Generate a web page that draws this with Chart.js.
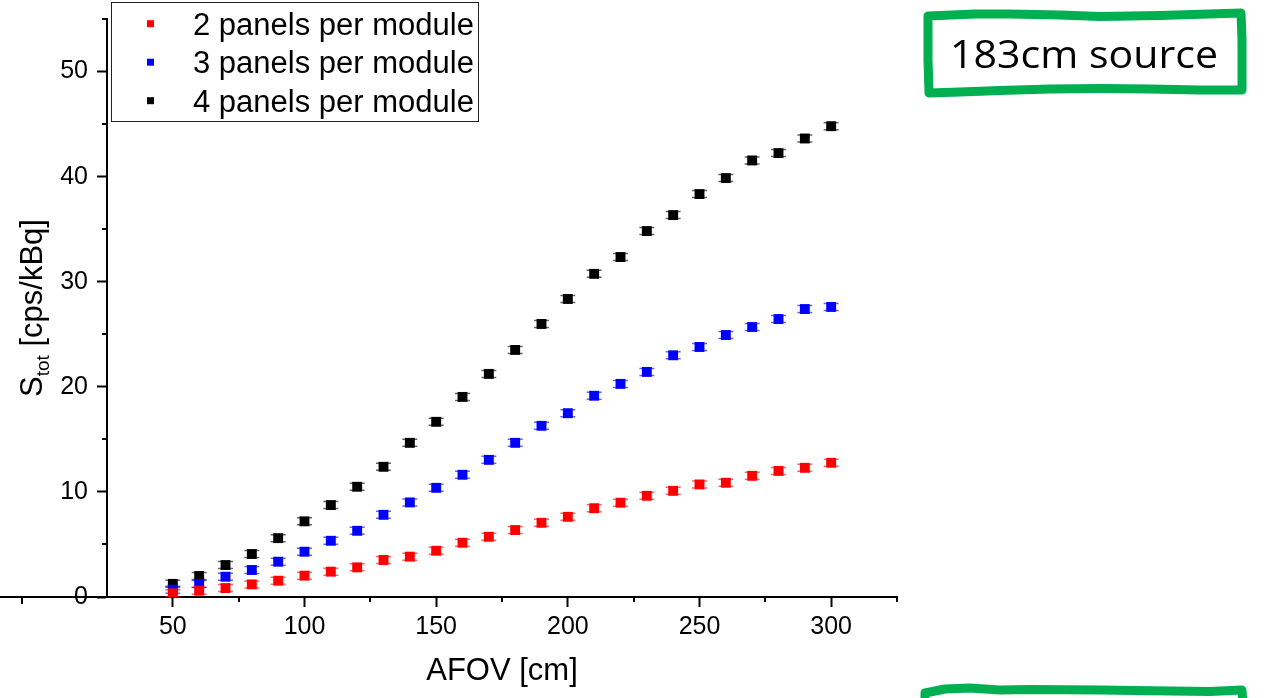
<!DOCTYPE html>
<html>
<head>
<meta charset="utf-8">
<script src="https://cdn.jsdelivr.net/npm/chart.js@4/dist/chart.umd.min.js"></script>
<style>
  html, body { margin: 0; padding: 0; background: #fff; }
  #wrap { width: 1268px; height: 698px; }
</style>
</head>
<body>
<div id="wrap"><canvas id="afovChart" width="1268" height="698"></canvas></div>
<script>
'use strict';

// AFOV in cm
const afov = [50, 60, 70, 80, 90, 100, 110, 120, 130, 140, 150, 160, 170, 180, 190, 200,
  210, 220, 230, 240, 250, 260, 270, 280, 290, 300];

// S_tot in cps/kBq
const twoPanels = [0.35, 0.6, 0.85, 1.2, 1.55, 2.03, 2.41, 2.82, 3.52, 3.84, 4.4, 5.16, 5.73,
  6.37, 7.06, 7.63, 8.45, 8.97, 9.63, 10.1, 10.71, 10.87, 11.53, 12.0, 12.29, 12.77];
const threePanels = [0.7, 1.24, 1.93, 2.57, 3.36, 4.31, 5.35, 6.3, 7.82, 9.0, 10.39, 11.63,
  13.05, 14.67, 16.29, 17.49, 19.15, 20.28, 21.42, 23.0, 23.79, 24.93, 25.69, 26.45, 27.4, 27.6];
const fourPanels = [1.25, 2.0, 3.04, 4.09, 5.6, 7.2, 8.75, 10.49, 12.39, 14.67, 16.67, 19.04,
  21.23, 23.51, 25.98, 28.36, 30.75, 32.35, 34.82, 36.34, 38.34, 39.86, 41.54, 42.24, 43.63, 44.8];

const seriesNames = ['2 panels per module', '3 panels per module', '4 panels per module'];
const seriesColors = ['#ff0000', '#0000ff', '#000000'];

const xTicks = [50, 100, 150, 200, 250, 300];
const xMinorTicks = [75, 125, 175, 225, 275, 325];
const yTicks = [0, 10, 20, 30, 40, 50];
const yMinorTicks = [5, 15, 25, 35, 45, 55];

const FONT = 'Liberation Sans, Arial, sans-serif';
const GREEN = '#00b050';

function toPoints(values) {
  return values.map((v, i) => ({ x: afov[i], y: v }));
}

// little error bar caps above and below every marker
const errorCaps = {
  id: 'errorCaps',
  beforeDatasetsDraw(chart) {
    const ctx = chart.ctx;
    ctx.save();
    chart.data.datasets.forEach((ds, i) => {
      const meta = chart.getDatasetMeta(i);
      ctx.strokeStyle = ds.backgroundColor;
      ctx.globalAlpha = 0.6;
      ctx.lineWidth = 1.5;
      meta.data.forEach(pt => {
        ctx.beginPath();
        ctx.moveTo(pt.x - 7.5, pt.y - 3.5);
        ctx.lineTo(pt.x + 7.5, pt.y - 3.5);
        ctx.moveTo(pt.x - 7.5, pt.y + 3.5);
        ctx.lineTo(pt.x + 7.5, pt.y + 3.5);
        ctx.stroke();
      });
    });
    ctx.restore();
  }
};

function wobblyBox(ctx, pts) {
  ctx.beginPath();
  ctx.moveTo(pts[0][0], pts[0][1]);
  for (let i = 1; i < pts.length; i++) {
    ctx.lineTo(pts[i][0], pts[i][1]);
  }
}

const decor = {
  id: 'decor',
  afterDraw(chart) {
    const ctx = chart.ctx;
    const xs = chart.scales.x;
    const ys = chart.scales.y;
    const area = chart.chartArea;
    ctx.save();

    // minor ticks
    ctx.strokeStyle = '#000';
    ctx.lineWidth = 2;
    ctx.beginPath();
    xMinorTicks.forEach(v => {
      const px = Math.round(xs.getPixelForValue(v));
      ctx.moveTo(px, area.bottom);
      ctx.lineTo(px, area.bottom + 5);
    });
    yMinorTicks.forEach(v => {
      const py = Math.round(ys.getPixelForValue(v));
      ctx.moveTo(area.left - 5, py);
      ctx.lineTo(area.left, py);
    });
    ctx.stroke();

    // stray bit of the neighbouring axis on the left edge
    ctx.beginPath();
    ctx.moveTo(0, area.bottom);
    ctx.lineTo(area.left, area.bottom);
    ctx.moveTo(22, area.bottom);
    ctx.lineTo(22, area.bottom + 7);
    ctx.stroke();

    // legend
    ctx.fillStyle = '#fff';
    ctx.fillRect(111, 2, 367, 119);
    ctx.strokeStyle = '#222';
    ctx.lineWidth = 1;
    ctx.strokeRect(111.5, 2.5, 367, 119);
    ctx.font = '31px ' + FONT;
    ctx.textBaseline = 'alphabetic';
    ctx.textAlign = 'left';
    seriesNames.forEach((name, i) => {
      const cy = 23.7 + 38.5 * i;
      ctx.fillStyle = seriesColors[i];
      ctx.fillRect(147, cy - 3.5, 7, 7);
      ctx.fillStyle = '#000';
      ctx.fillText(name, 193, 35 + 38.4 * i);
    });

    // y title with subscript
    ctx.save();
    ctx.translate(42, 397);
    ctx.rotate(-Math.PI / 2);
    ctx.fillStyle = '#000';
    ctx.font = '31px ' + FONT;
    ctx.fillText('S', 0, 0);
    let off = ctx.measureText('S').width;
    ctx.font = '19px ' + FONT;
    ctx.fillText('tot', off, 7);
    off += ctx.measureText('tot').width;
    ctx.font = '31px ' + FONT;
    ctx.fillText(' [cps/kBq]', off, 0);
    ctx.restore();

    // green hand drawn boxes
    ctx.strokeStyle = GREEN;
    ctx.lineWidth = 9;
    ctx.lineJoin = 'round';
    ctx.lineCap = 'round';
    wobblyBox(ctx, [
      [928, 16], [975, 14], [1010, 14], [1060, 15], [1100, 16.5], [1160, 15.5], [1241, 13],
      [1242, 40], [1242, 90], [1200, 90], [1150, 89], [1100, 88.5], [1050, 89], [1000, 90.5], [960, 92], [929, 93],
      [928, 60], [928, 16]
    ]);
    ctx.stroke();
    wobblyBox(ctx, [
      [925, 705], [925, 693], [945, 689], [970, 688], [1000, 690], [1030, 689.5], [1100, 690],
      [1170, 691], [1210, 691.5], [1242, 690], [1243, 705]
    ]);
    ctx.stroke();

    ctx.fillStyle = '#000';
    ctx.font = '39px "Open Sans", "Noto Sans", sans-serif';
    const label = '183cm source';
    const w = ctx.measureText(label).width;
    ctx.save();
    ctx.translate(950, 68);
    ctx.scale(268 / w, 1);
    ctx.fillText(label, 0, 0);
    ctx.restore();

    ctx.restore();
  }
};

Chart.defaults.font.family = FONT;
Chart.defaults.color = '#000';

const datasets = [twoPanels, threePanels, fourPanels].map((vals, i) => ({
  label: seriesNames[i],
  data: toPoints(vals),
  backgroundColor: seriesColors[i],
  borderColor: seriesColors[i],
  borderWidth: 0,
  pointStyle: 'rect',
  pointRadius: 7,
  showLine: false
}));

const ctx = document.getElementById('afovChart').getContext('2d');
const afovChart = new Chart(ctx, {
  type: 'scatter',
  data: { datasets: datasets },
  options: {
    responsive: false,
    animation: false,
    devicePixelRatio: 1,
    layout: { padding: { left: 0, right: 371, top: 19, bottom: 0 } },
    plugins: {
      legend: { display: false },
      tooltip: { enabled: false }
    },
    scales: {
      x: {
        type: 'linear',
        min: 25,
        max: 325,
        afterBuildTicks: s => { s.ticks = xTicks.map(v => ({ value: v })); },
        afterFit: s => {
          s.height = 101;
          s.paddingLeft = 0;
          s.paddingRight = 0;
        },
        border: { color: '#000', width: 2 },
        grid: { drawOnChartArea: false, tickLength: 10, tickWidth: 2, tickColor: '#000' },
        ticks: { font: { size: 25 }, padding: 5, maxRotation: 0, color: '#000' },
        title: { display: true, text: 'AFOV [cm]', font: { size: 31 }, color: '#000', padding: { top: 0, bottom: 8 } }
      },
      y: {
        type: 'linear',
        min: 0,
        max: 55,
        afterBuildTicks: s => { s.ticks = yTicks.map(v => ({ value: v })); },
        afterFit: s => {
          s.width = 107;
          s.paddingTop = 0;
          s.paddingBottom = 0;
        },
        border: { color: '#000', width: 2 },
        grid: { drawOnChartArea: false, tickLength: 10, tickWidth: 2, tickColor: '#000' },
        ticks: { font: { size: 25 }, padding: 9, color: '#000' }
      }
    }
  },
  plugins: [errorCaps, decor]
});
</script>
</body>
</html>
